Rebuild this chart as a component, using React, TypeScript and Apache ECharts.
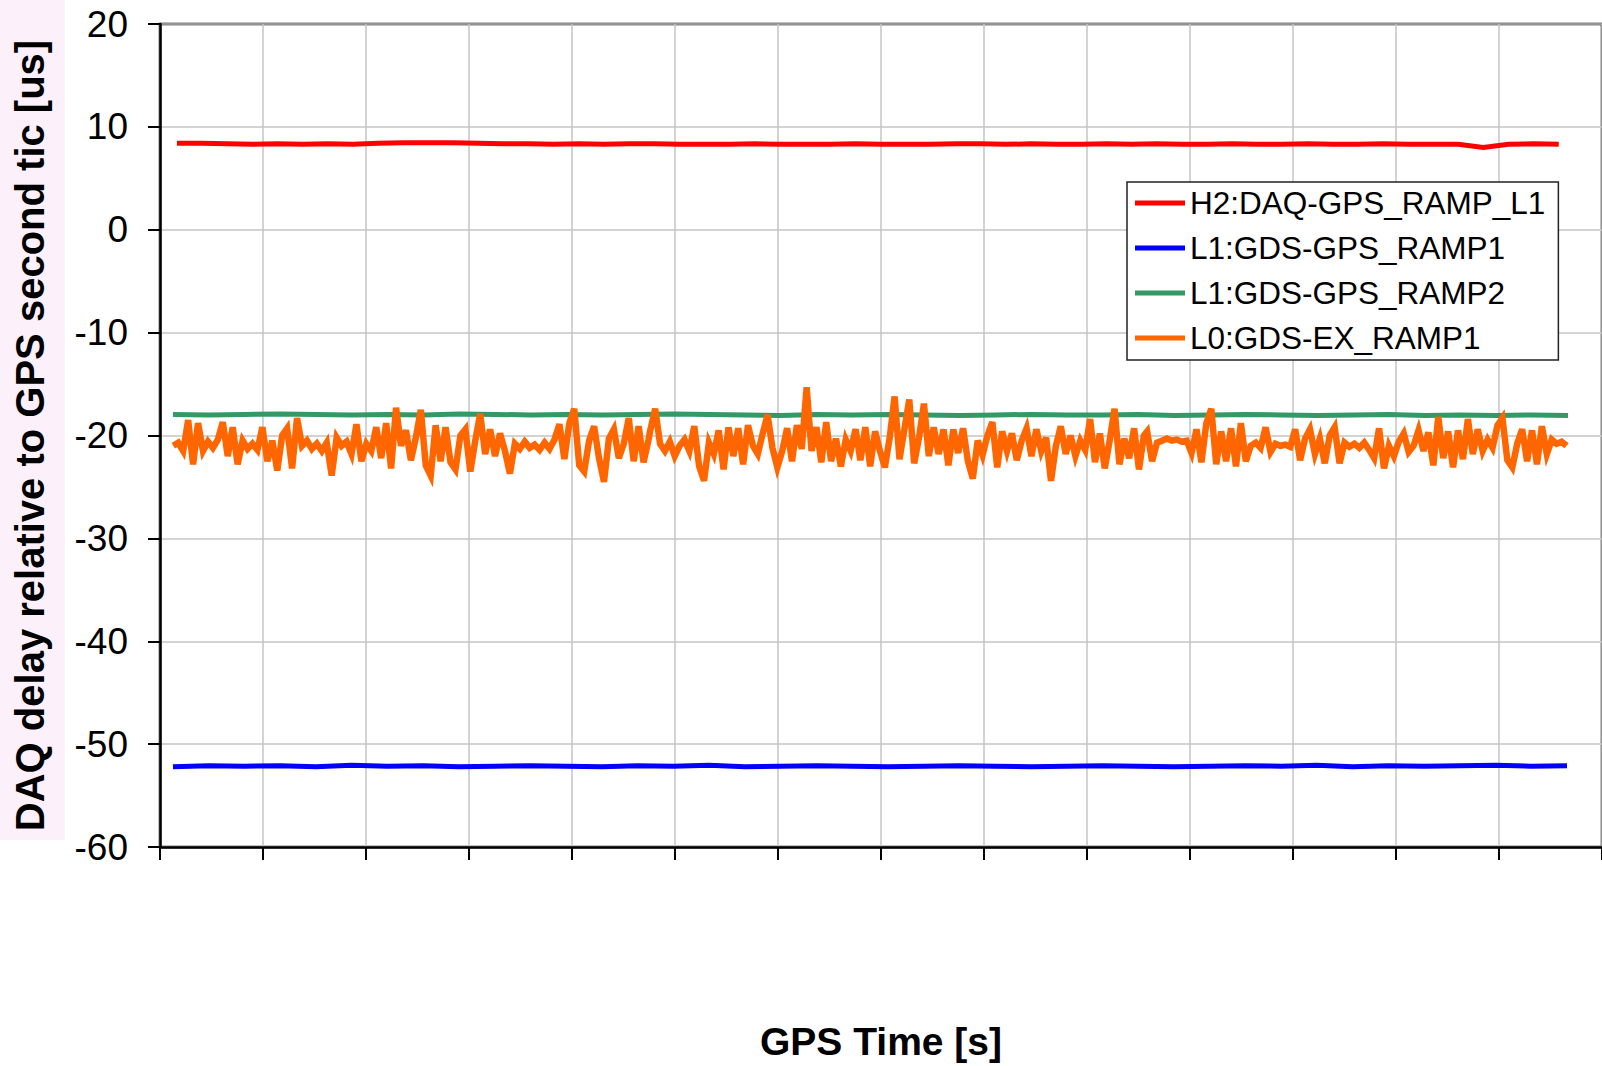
import { useEffect, useRef } from "react";
import * as echarts from "echarts";

const FONT = "'Liberation Sans', Arial, Helvetica, sans-serif";

const seriesNames = ["H2:DAQ-GPS_RAMP_L1", "L1:GDS-GPS_RAMP1", "L1:GDS-GPS_RAMP2", "L0:GDS-EX_RAMP1"];
const seriesColors = ["#ff0000", "#0000ff", "#339966", "#ff6600"];

const xAxisTitle = "GPS Time [s]";
const yAxisTitle = "DAQ delay relative to GPS second tic [us]";
const xMin = 0;
const xMax = 1400;
const xStep = 100;
const yMin = -60;
const yMax = 20;
const yStep = 10;

// sample-time ranges [first, last] for each trace
const redRange = [16.5, 1358];
const blueRange = [12.6, 1366];
const greenRange = [12.6, 1367];

const redValues = [
  8.4, 8.4, 8.35, 8.3, 8.35, 8.3, 8.35, 8.3,
  8.4, 8.45, 8.45, 8.45, 8.4, 8.35, 8.35, 8.3,
  8.35, 8.3, 8.35, 8.35, 8.3, 8.3, 8.3, 8.35,
  8.3, 8.3, 8.3, 8.35, 8.3, 8.3, 8.3, 8.35,
  8.35, 8.3, 8.35, 8.3, 8.3, 8.35, 8.3, 8.35,
  8.3, 8.3, 8.35, 8.3, 8.3, 8.35, 8.3, 8.3,
  8.35, 8.3, 8.3, 8.3, 8.0, 8.3, 8.35, 8.3,
];

const blueValues = [
  -52.2, -52.1, -52.15, -52.1, -52.2, -52.05, -52.15, -52.1,
  -52.2, -52.15, -52.1, -52.15, -52.2, -52.1, -52.15, -52.05,
  -52.2, -52.15, -52.1, -52.15, -52.2, -52.15, -52.1, -52.15,
  -52.2, -52.15, -52.1, -52.15, -52.2, -52.15, -52.1, -52.15,
  -52.05, -52.2, -52.1, -52.15, -52.1, -52.05, -52.15, -52.1,
];

const greenValues = [
  -17.95, -18.0, -17.95, -17.9, -17.95, -18.0, -17.95, -18.0,
  -17.9, -17.95, -18.0, -17.95, -18.0, -17.95, -17.9, -17.95,
  -18.0, -18.05, -17.95, -18.0, -17.95, -18.0, -18.05, -18.0,
  -17.95, -18.0, -18.0, -17.95, -18.05, -18.0, -17.95, -18.0,
  -18.05, -18.0, -17.95, -18.05, -18.0, -18.05, -18.0, -18.05,
];

// orange trace, read in three stretches
const orangeRange1 = [12.9, 474.3];
const orangeValues1 = [
  -21.0, -20.7, -21.5, -18.5, -22.8, -18.8, -21.5, -20.6, -21.2, -20.4,
  -18.7, -22.0, -19.2, -22.8, -20.5, -21.3, -20.8, -21.4, -19.2, -22.5,
  -20.5, -23.4, -20.0, -19.3, -23.2, -18.3, -21.0, -20.5, -21.3, -20.8,
  -21.5, -20.7, -23.9, -20.2, -21.0, -20.6, -21.8, -18.9, -22.5, -20.8,
  -21.5, -19.2, -22.2, -18.8, -23.2, -17.3, -21.0, -19.5, -22.4, -20.2,
  -17.5, -22.9, -23.9, -19.0, -22.5, -19.2, -22.6, -23.3, -20.0, -19.4,
  -23.5, -20.5, -17.9, -21.8, -19.4, -22.0, -19.8, -21.5, -23.7, -20.8,
  -21.3, -20.6, -21.2, -20.9, -21.4, -20.7, -21.3, -20.4, -18.9, -22.3,
  -18.8, -17.4, -22.9, -23.5, -20.5, -19.1, -22.2, -24.5, -20.3, -19.4,
  -22.2, -20.8, -18.3, -22.5, -19.1, -22.6, -20.4,
];

const orangeRange2 = [476, 955.2];
const orangeValues2 = [
  -19.5, -17.4, -20.8, -21.5, -20.6, -22.0, -21.0, -20.4, -21.5, -19.1,
  -23.0, -24.4, -20.7, -21.8, -19.5, -23.3, -19.2, -22.0, -19.3, -22.8,
  -19.0, -21.0, -21.8, -19.8, -18.0, -21.2, -23.1, -21.5, -19.3, -22.5,
  -19.0, -21.3, -15.3, -21.5, -19.2, -22.6, -18.7, -22.5, -20.3, -23.0,
  -20.4, -21.5, -19.4, -22.4, -19.2, -23.0, -19.6, -21.5, -23.1, -20.2,
  -16.2, -22.3, -19.4, -16.5, -22.7, -20.2, -16.9, -22.0, -19.2, -21.8,
  -19.4, -22.9, -19.4, -21.7, -19.3, -22.5, -24.2, -20.5, -21.9, -20.0,
  -18.7, -23.1, -19.6, -21.5, -19.8, -22.4, -20.5, -19.3, -22.0, -19.4,
  -21.5, -20.2, -24.4, -21.0, -19.1, -21.8, -20.0, -22.0, -20.5, -21.4,
  -18.4, -22.6, -19.8, -23.2, -20.5, -17.4, -22.8, -20.3, -22.2, -19.3,
  -23.3, -20.0,
];

const orangeRange3 = [958.4, 1365.6];
const orangeValues3 = [
  -19.6, -22.5, -20.7, -20.5, -20.3, -20.5, -20.4, -20.6, -20.5, -21.7,
  -19.4, -22.6, -18.8, -17.4, -22.8, -19.6, -22.5, -19.3, -23.0, -18.8,
  -22.5, -21.0, -20.7, -21.2, -19.2, -21.6, -20.8, -21.0, -20.9, -21.1,
  -19.4, -22.4, -20.3, -19.4, -21.8, -20.3, -22.7, -20.0, -19.2, -22.7,
  -20.7, -21.1, -20.8, -21.2, -20.7, -21.4, -22.2, -19.3, -23.2, -21.0,
  -22.0, -20.6, -19.8, -21.6, -21.0, -19.5, -21.5, -19.7, -22.9, -18.2,
  -22.2, -19.6, -23.1, -19.5, -22.3, -18.4, -21.8, -19.4, -21.5, -20.4,
  -21.2, -19.0, -18.3, -22.4, -23.1, -20.8, -19.4, -22.5, -19.5, -22.8,
  -19.1, -21.8, -20.4, -20.8, -20.6, -21.0,
];

function pairUp(range: number[], values: number[]) {
  const [a, b] = range;
  const n = values.length;
  return values.map((v, i) => [a + ((b - a) * i) / (n - 1), v]);
}

export default function App() {
  const ref = useRef<HTMLDivElement>(null);

  useEffect(() => {
    if (!ref.current) return;
    const chart = echarts.init(ref.current, undefined, { renderer: "svg" });

    const orangeData = [
      ...pairUp(orangeRange1, orangeValues1),
      ...pairUp(orangeRange2, orangeValues2),
      ...pairUp(orangeRange3, orangeValues3),
    ];
    const datasets = [
      pairUp(redRange, redValues),
      pairUp(blueRange, blueValues),
      pairUp(greenRange, greenValues),
      orangeData,
    ];
    const widths = [5, 5, 5, 6.5];

    const option: any = {
      animation: false,
      backgroundColor: "#ffffff",
      textStyle: { fontFamily: FONT },
      graphic: [
        {
          type: "rect",
          z: -10,
          silent: true,
          shape: { x: 0, y: 0, width: 65, height: 840 },
          style: { fill: "#fcf0fa" },
        },
      ],
      grid: {
        left: 160,
        top: 24,
        right: -3,
        bottom: 218,
        show: true,
        borderColor: "#000",
        borderWidth: 2.5,
        backgroundColor: "transparent",
      },
      legend: {
        orient: "vertical",
        left: 1127,
        top: 182,
        padding: [5, 13, 6, 8],
        itemGap: 13,
        itemWidth: 50,
        itemHeight: 5,
        icon: "rect",
        borderColor: "#222",
        borderWidth: 1.5,
        backgroundColor: "#ffffff",
        data: seriesNames,
        textStyle: { fontSize: 31.5, fontFamily: FONT, color: "#000", lineHeight: 32 },
      },
      xAxis: {
        type: "value",
        min: xMin,
        max: xMax,
        interval: xStep,
        name: xAxisTitle,
        nameLocation: "middle",
        nameGap: 175,
        nameTextStyle: { fontSize: 39, fontWeight: "bold", color: "#000", fontFamily: FONT },
        axisLine: { show: true, onZero: false, lineStyle: { color: "#000", width: 2.5 } },
        axisTick: { show: true, inside: false, length: 13, lineStyle: { color: "#000", width: 2 } },
        axisLabel: { show: false },
        splitLine: { show: true, lineStyle: { color: "#c4c4c4", width: 1.5 } },
      },
      yAxis: {
        type: "value",
        min: yMin,
        max: yMax,
        interval: yStep,
        name: yAxisTitle,
        nameLocation: "middle",
        nameRotate: 90,
        nameGap: 110,
        nameTextStyle: { fontSize: 40, fontWeight: "bold", color: "#000", fontFamily: FONT },
        axisLine: { show: true, onZero: false, lineStyle: { color: "#000", width: 2.5 } },
        axisTick: { show: true, inside: false, length: 12, lineStyle: { color: "#000", width: 2 } },
        axisLabel: { fontSize: 37, color: "#000", fontFamily: FONT, margin: 32 },
        splitLine: { show: true, lineStyle: { color: "#c4c4c4", width: 1.5 } },
      },
      series: seriesNames.map((name, i) => ({
        name,
        type: "line",
        data: datasets[i],
        symbol: "none",
        color: seriesColors[i],
        lineStyle: { color: seriesColors[i], width: widths[i], join: "miter" },
        z: 2 + i,
      })),
    };

    chart.setOption(option);
    return () => chart.dispose();
  }, []);

  return (
    <div
      ref={ref}
      style={{ position: "fixed", left: 0, top: 0, width: 1602, height: 1066, background: "#fff" }}
    />
  );
}
